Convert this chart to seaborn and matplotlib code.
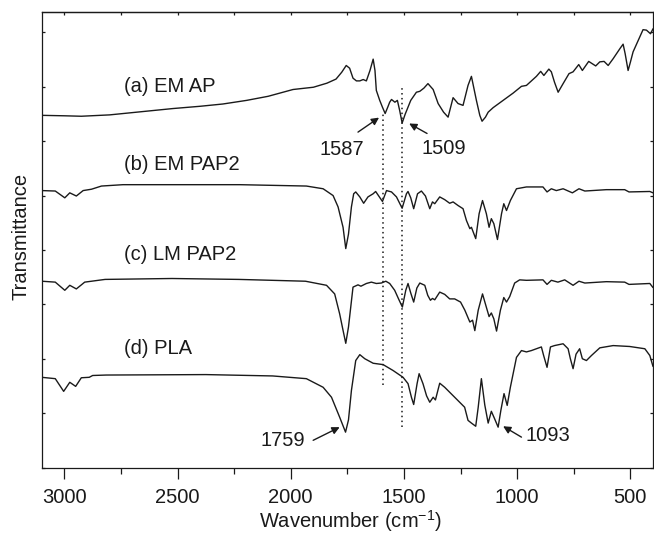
import numpy as np
import pandas as pd
import matplotlib
matplotlib.use("Agg")
import matplotlib.pyplot as plt
import seaborn as sns
from matplotlib.ticker import MultipleLocator, NullFormatter, FixedLocator

# ---------------- data (wavenumber, transmittance a.u.) ----------------
a_w = [3100, 3000, 2925, 2800, 2700, 2520, 2400, 2300, 2195, 2100, 1990, 1900, 1840, 1800, 1775, 1755,
       1740, 1725, 1710, 1695, 1680, 1666, 1650, 1636, 1628, 1622, 1607, 1595, 1583, 1570, 1563, 1555,
       1540, 1529, 1519, 1508, 1495, 1470, 1445, 1430, 1412, 1394, 1371, 1349, 1325, 1305, 1283, 1261,
       1239, 1217, 1202, 1180, 1165, 1155, 1140, 1128, 1106, 1062, 1018, 981, 959, 915, 896, 882, 860,
       849, 835, 819, 797, 771, 753, 728, 712, 684, 653, 635, 616, 598, 576, 545, 532, 523, 510, 500,
       488, 444, 429, 411, 400]
a_t = [77.7, 77.6, 77.5, 77.8, 78.3, 79.2, 79.7, 80.2, 81.0, 81.9, 83.4, 83.9, 84.8, 85.7, 87.2, 88.7,
       88.1, 85.9, 85.3, 85.3, 85.6, 85.3, 87.6, 90.1, 87.6, 83.2, 81.0, 79.5, 78.1, 79.7, 80.6, 81.2,
       80.6, 81.0, 78.8, 76.0, 77.9, 81.0, 82.8, 83.0, 83.7, 84.7, 83.4, 80.3, 78.4, 77.3, 81.6, 80.3,
       79.9, 84.3, 86.3, 81.0, 77.7, 76.4, 77.3, 78.4, 79.4, 81.0, 82.6, 84.1, 84.3, 86.3, 87.4, 86.5, 87.9,
       87.3, 85.0, 82.8, 84.7, 86.9, 87.3, 88.9, 87.6, 89.6, 88.6, 89.5, 89.6, 88.7, 90.2, 92.5, 93.4, 91.3, 87.6, 89.4,
       91.7, 96.6, 96.5, 95.7, 96.8]

b_w = [3100, 3040, 2998, 2976, 2947, 2917, 2880, 2836, 2741, 2225, 1931, 1857, 1813, 1791, 1769, 1757,
       1745, 1732, 1722, 1713, 1695, 1678, 1659, 1636, 1625, 1610, 1595, 1577, 1555, 1533, 1508, 1489,
       1482, 1470, 1457, 1440, 1423, 1405, 1386, 1374, 1364, 1342, 1320, 1298, 1283, 1261, 1239, 1224,
       1209, 1202, 1183, 1168, 1153, 1136, 1124, 1114, 1103, 1087, 1069, 1059, 1047, 1030, 1003, 959,
       886, 868, 849, 827, 797, 756, 727, 701, 606, 525, 506, 414, 400]
b_t = [61.1, 61.0, 59.5, 60.6, 59.9, 61.1, 61.4, 62.1, 62.4, 62.4, 62.1, 61.5, 60.0, 57.5, 53.0, 48.3,
       51.5, 57.5, 60.4, 60.8, 59.7, 58.3, 59.7, 60.4, 60.9, 59.8, 58.7, 61.1, 60.8, 59.7, 57.2, 60.4,
       60.9, 59.5, 57.1, 60.4, 61.0, 59.9, 57.1, 58.6, 58.2, 59.7, 59.1, 58.3, 58.6, 57.8, 57.1, 54.5,
       52.7, 53.0, 50.5, 56.0, 58.9, 56.0, 53.0, 54.9, 53.8, 50.3, 56.0, 58.2, 56.7, 58.9, 61.5, 61.9,
       61.9, 60.8, 61.5, 61.1, 61.5, 60.6, 61.5, 61.0, 61.3, 61.3, 60.8, 60.9, 60.6]

c_w = [3100, 3040, 2998, 2976, 2947, 2910, 2880, 2820, 2525, 2230, 1935, 1842, 1806, 1784, 1770, 1757,
       1745, 1725, 1703, 1690, 1666, 1644, 1622, 1600, 1580, 1563, 1541, 1522, 1507, 1492, 1482, 1470,
       1457, 1443, 1430, 1408, 1395, 1383, 1374, 1364, 1342, 1320, 1298, 1276, 1250, 1231, 1209, 1197,
       1187, 1172, 1153, 1138, 1124, 1114, 1103, 1091, 1074, 1059, 1047, 1033, 1011, 989, 959, 886,
       868, 849, 820, 790, 753, 727, 701, 606, 525, 506, 414, 400]
c_t = [41.1, 40.9, 39.1, 40.2, 39.4, 40.9, 41.1, 41.5, 41.7, 41.5, 41.1, 40.2, 38.3, 33.9, 30.5, 27.4,
       31.0, 39.8, 40.3, 40.0, 40.6, 40.9, 40.6, 40.7, 41.1, 40.6, 39.1, 37.0, 35.4, 39.1, 40.6, 38.5,
       36.5, 39.6, 40.7, 40.2, 38.0, 36.9, 37.3, 37.0, 38.7, 38.2, 37.2, 37.2, 36.5, 34.7, 32.1, 32.5,
       30.2, 34.7, 38.3, 35.7, 33.3, 34.1, 32.8, 30.1, 34.7, 37.5, 36.5, 37.7, 40.7, 41.4, 41.3, 41.4,
       40.4, 41.3, 40.9, 41.4, 40.2, 41.1, 40.7, 41.0, 40.9, 40.4, 40.6, 39.7]

d_w = [3100, 3040, 3003, 2976, 2950, 2925, 2890, 2875, 2815, 2375, 2080, 1931, 1857, 1820, 1784, 1758,
       1745, 1732, 1713, 1695, 1673, 1636, 1592, 1548, 1504, 1482, 1467, 1457, 1442, 1433, 1416, 1400,
       1386, 1371, 1361, 1342, 1320, 1298, 1276, 1254, 1232, 1217, 1202, 1183, 1172, 1158, 1143, 1128,
       1114, 1100, 1084, 1072, 1058, 1044, 1030, 1003, 981, 959, 937, 915, 893, 883, 868, 853, 835, 797,
       775, 765, 753, 740, 724, 712, 694, 672, 635, 576, 503, 436, 414, 400]
d_t = [19.9, 19.6, 16.8, 18.8, 17.9, 19.8, 19.9, 20.3, 20.4, 20.5, 20.2, 19.6, 17.7, 15.5, 11.1, 7.8,
       10.5, 17.0, 23.6, 24.9, 24.0, 23.0, 22.7, 21.4, 19.9, 18.5, 15.5, 13.9, 18.5, 20.7, 18.5, 15.8,
       14.4, 15.5, 14.9, 18.6, 17.7, 16.6, 15.5, 14.4, 13.3, 10.4, 9.8, 9.1, 13.3, 19.6, 13.8, 9.8,
       12.4, 10.8, 8.9, 12.6, 16.3, 13.7, 17.7, 24.3, 25.8, 25.5, 25.8, 26.2, 26.6, 24.7, 22.1, 26.6, 26.9, 27.3,
       26.2, 24.0, 21.8, 25.0, 26.2, 24.0, 23.6, 24.7, 26.4, 26.9, 26.7, 26.2, 24.7, 22.3]

series_names = ["(a) EM AP", "(b) EM PAP2", "(c) LM PAP2", "(d) PLA"]
series_w = [a_w, b_w, c_w, d_w]
series_t = [a_t, b_t, c_t, d_t]

x_ticks = [3000, 2500, 2000, 1500, 1000, 500]
x_tick_labels = ["3000", "2500", "2000", "1500", "1000", "500"]

guide_w = [1594, 1508]
guide_lo = [18.1, 8.9]
guide_hi = [78.1, 84.1]

peak_labels = ["1587", "1509", "1759", "1093"]

# ---------------- style ----------------
sns.set_style("white")
plt.rcParams["font.family"] = ["Liberation Sans", "DejaVu Sans"]
plt.rcParams["mathtext.fontset"] = "custom"
plt.rcParams["mathtext.rm"] = "Liberation Sans"
plt.rcParams["mathtext.it"] = "Liberation Sans:italic"
plt.rcParams["mathtext.default"] = "regular"

FS = 14.5
INK = "#1a1a1a"

df = pd.concat([pd.DataFrame({"w": w, "t": t, "s": n})
                for n, w, t in zip(series_names, series_w, series_t)], ignore_index=True)

fig = plt.figure(figsize=(6.54, 5.37), dpi=100)
ax = fig.add_axes([41.7 / 654, 1 - 467.5 / 537, (653 - 41.7) / 654, (467.5 - 12) / 537])

for n in series_names:
    sub = df[df["s"] == n]
    sns.lineplot(data=sub, x="w", y="t", ax=ax, color=INK, lw=1.0,
                 estimator=None, sort=False, legend=False)

ax.set_xlim(3100, 400)
ax.set_ylim(0, 100.5)

# guide dotted lines
ax.vlines(guide_w, guide_lo, guide_hi, colors=INK, linestyles=(0, (1, 2.2)), lw=1.1)

# curve labels
label_y = [84.1, 66.9, 47.0, 26.3]
for n, y in zip(series_names, label_y):
    ax.text(2738, y, n, fontsize=FS, ha="left", va="center", color=INK)

# peak annotations: (text pos, arrow tail, arrow head)
ann = [((1775, 70.2), (1703, 74.0), (1610, 77.2)),
       ((1324, 70.3), (1398, 73.7), (1477, 75.9)),
       ((2035, 6.0), (1901, 6.0), (1784, 8.9)),
       ((865, 7.1), (981, 6.7), (1062, 9.1))]
for lab, (tp, tail, head) in zip(peak_labels, ann):
    ax.text(tp[0], tp[1], lab, fontsize=FS, ha="center", va="center", color=INK)
    ax.annotate("", xy=head, xytext=tail,
                arrowprops=dict(arrowstyle="-|>", color=INK, lw=1.0,
                                mutation_scale=11, shrinkA=0, shrinkB=0))

# axes / ticks
ax.set_xlabel("")
ax.set_ylabel("")
ax.xaxis.set_major_locator(FixedLocator(x_ticks))
ax.set_xticklabels(x_tick_labels)
ax.xaxis.set_minor_locator(MultipleLocator(250))
ax.tick_params(axis="x", which="major", direction="out", length=8, width=0.9,
               labelsize=FS, pad=7, colors=INK, bottom=True, top=False)
ax.tick_params(axis="x", which="minor", direction="out", length=4.5, width=0.9,
               bottom=True, top=False, colors=INK)
ax.yaxis.set_major_locator(MultipleLocator(12))
ax.yaxis.set_major_formatter(NullFormatter())
ax.tick_params(axis="y", which="major", direction="in", length=2.5, width=0.9,
               left=True, right=True, colors=INK)

sec = ax.secondary_xaxis("top")
sec.xaxis.set_major_locator(MultipleLocator(250))
sec.xaxis.set_major_formatter(NullFormatter())
sec.tick_params(axis="x", direction="in", length=2.5, width=0.9, colors=INK)
sec.spines["top"].set_linewidth(0.9)

for sp in ax.spines.values():
    sp.set_linewidth(0.9)
    sp.set_color(INK)
    sp.set_visible(True)

fig.text(21 / 654, 1 - 236 / 537, "Transmittance", rotation=90, ha="center", va="center",
         fontsize=FS, color=INK)
fig.text(350 / 654, 1 - 521 / 537, "Wavenumber (cm$^{-1}$)", ha="center", va="center",
         fontsize=FS, color=INK)

fig.savefig("out.png", dpi=100)
